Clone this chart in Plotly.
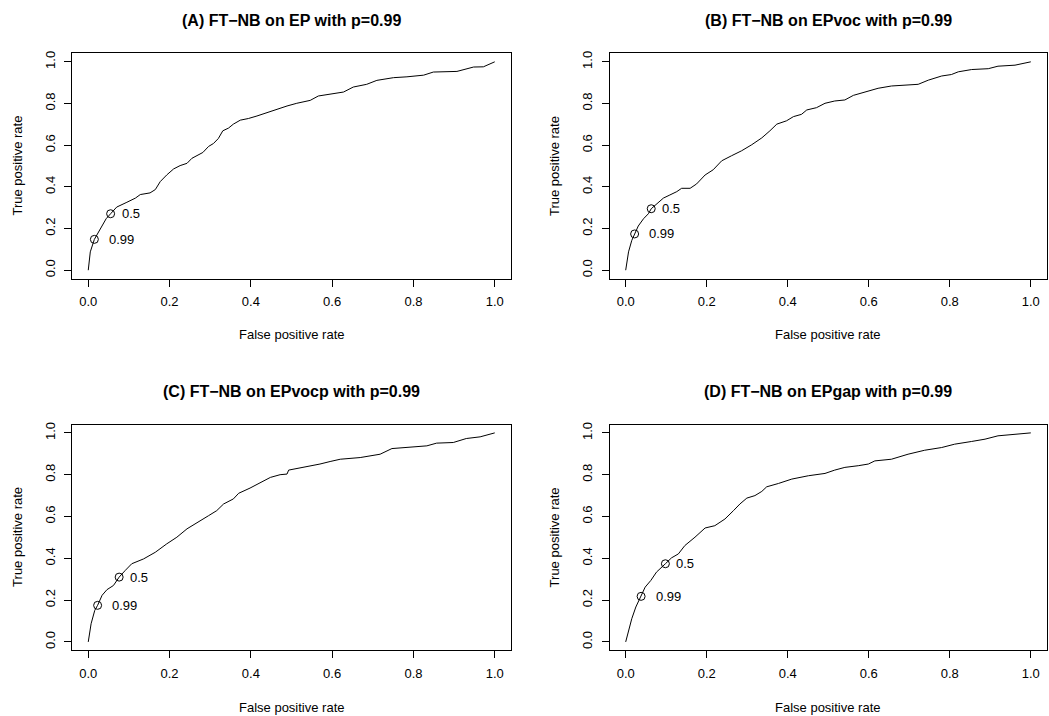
import plotly.graph_objects as go

# ---------------- data ----------------
titles = ["(A) FT\u2212NB on EP with p=0.99",
          "(B) FT\u2212NB on EPvoc with p=0.99",
          "(C) FT\u2212NB on EPvocp with p=0.99",
          "(D) FT\u2212NB on EPgap with p=0.99"]

fpr_A = [0, 0.005, 0.015, 0.03, 0.044, 0.055, 0.07, 0.095, 0.116, 0.128, 0.152, 0.165, 0.177, 0.193,
         0.21, 0.226, 0.243, 0.255, 0.267, 0.282, 0.296, 0.308, 0.32, 0.331, 0.345, 0.357, 0.374,
         0.394, 0.415, 0.439, 0.464, 0.489, 0.513, 0.546, 0.566, 0.591, 0.628, 0.652, 0.685, 0.71,
         0.751, 0.784, 0.825, 0.849, 0.907, 0.948, 0.972, 1.0]
tpr_A = [0, 0.088, 0.148, 0.2, 0.247, 0.271, 0.303, 0.326, 0.346, 0.363, 0.371, 0.387, 0.425, 0.457,
         0.486, 0.502, 0.513, 0.537, 0.549, 0.565, 0.594, 0.608, 0.632, 0.669, 0.682, 0.701, 0.72,
         0.728, 0.74, 0.756, 0.772, 0.788, 0.801, 0.815, 0.836, 0.844, 0.855, 0.879, 0.892, 0.911,
         0.924, 0.928, 0.936, 0.951, 0.954, 0.975, 0.976, 1.0]

fpr_B = [0, 0.007, 0.015, 0.022, 0.031, 0.044, 0.056, 0.063, 0.076, 0.093, 0.109, 0.126, 0.138, 0.159,
         0.175, 0.196, 0.216, 0.237, 0.261, 0.286, 0.311, 0.336, 0.356, 0.373, 0.397, 0.414, 0.434,
         0.447, 0.471, 0.492, 0.516, 0.541, 0.562, 0.599, 0.623, 0.656, 0.697, 0.722, 0.747, 0.78,
         0.804, 0.821, 0.854, 0.895, 0.919, 0.961, 1.0]
tpr_B = [0, 0.088, 0.143, 0.174, 0.212, 0.247, 0.271, 0.295, 0.318, 0.346, 0.361, 0.377, 0.393, 0.393,
         0.414, 0.457, 0.482, 0.525, 0.549, 0.573, 0.602, 0.635, 0.669, 0.701, 0.717, 0.737, 0.748,
         0.769, 0.78, 0.801, 0.812, 0.817, 0.839, 0.86, 0.873, 0.884, 0.889, 0.892, 0.912, 0.932,
         0.939, 0.952, 0.963, 0.967, 0.979, 0.984, 1.0]

fpr_C = [0, 0.007, 0.016, 0.023, 0.034, 0.046, 0.062, 0.076, 0.091, 0.107, 0.136, 0.165, 0.193, 0.218,
         0.243, 0.267, 0.296, 0.316, 0.333, 0.357, 0.37, 0.398, 0.423, 0.448, 0.472, 0.489, 0.493,
         0.53, 0.57, 0.595, 0.62, 0.669, 0.718, 0.747, 0.8, 0.833, 0.857, 0.898, 0.93, 0.964, 1.0]
tpr_C = [0, 0.087, 0.151, 0.175, 0.223, 0.25, 0.27, 0.31, 0.342, 0.374, 0.397, 0.429, 0.469, 0.501,
         0.541, 0.568, 0.604, 0.628, 0.66, 0.684, 0.711, 0.736, 0.763, 0.787, 0.8, 0.803, 0.822,
         0.835, 0.851, 0.863, 0.874, 0.882, 0.898, 0.925, 0.933, 0.938, 0.951, 0.954, 0.973, 0.981, 1.0]

fpr_D = [0, 0.007, 0.015, 0.025, 0.038, 0.048, 0.062, 0.076, 0.098, 0.113, 0.13, 0.146, 0.171, 0.196,
         0.22, 0.245, 0.266, 0.282, 0.299, 0.319, 0.336, 0.348, 0.377, 0.41, 0.451, 0.492, 0.516,
         0.541, 0.574, 0.599, 0.615, 0.656, 0.697, 0.738, 0.78, 0.812, 0.854, 0.887, 0.919, 0.961, 1.0]
tpr_D = [0, 0.056, 0.111, 0.167, 0.218, 0.262, 0.294, 0.334, 0.374, 0.402, 0.421, 0.461, 0.501, 0.545,
         0.556, 0.588, 0.628, 0.66, 0.688, 0.7, 0.72, 0.742, 0.758, 0.779, 0.795, 0.806, 0.822,
         0.835, 0.843, 0.851, 0.866, 0.874, 0.898, 0.917, 0.93, 0.946, 0.959, 0.97, 0.986, 0.994, 1.0]

cutoff_labels = ["0.99", "0.5"]
cut_fpr_A = [0.015, 0.055]; cut_tpr_A = [0.148, 0.271]
cut_fpr_B = [0.022, 0.063]; cut_tpr_B = [0.174, 0.295]
cut_fpr_C = [0.023, 0.076]; cut_tpr_C = [0.175, 0.310]
cut_fpr_D = [0.038, 0.098]; cut_tpr_D = [0.218, 0.374]

tick_vals = [0.0, 0.2, 0.4, 0.6, 0.8, 1.0]
tick_text = ["0.0", "0.2", "0.4", "0.6", "0.8", "1.0"]

# ---------------- layout ----------------
W, H = 1049, 716
FONT = "Liberation Sans, Arial, Helvetica, sans-serif"

# pixel geometry of the plot boxes (left, right, top, bottom)
boxes = [(72, 511, 50.7, 276.7), (609.5, 1047, 50.7, 276.7),
         (72, 511, 423.3, 650), (609.5, 1047, 423.3, 650)]
ylabel_x = [17.5, 554, 17.5, 554]
title_y = [18, 18, 390.5, 390.5]
xlabel_y = [333, 333, 707, 707]

series = [(fpr_A, tpr_A, cut_fpr_A, cut_tpr_A), (fpr_B, tpr_B, cut_fpr_B, cut_tpr_B),
          (fpr_C, tpr_C, cut_fpr_C, cut_tpr_C), (fpr_D, tpr_D, cut_fpr_D, cut_tpr_D)]

fig = go.Figure()
annotations = []
label_shift = {"0.99": 12.6, "0.5": 9}

for i, ((fx, ty, cx, cy), (l, r, t, b)) in enumerate(zip(series, boxes)):
    n = "" if i == 0 else str(i + 1)
    xa, ya = "x" + n, "y" + n
    fig.add_trace(go.Scatter(x=fx, y=ty, mode="lines", line=dict(color="black", width=1),
                             xaxis=xa, yaxis=ya, showlegend=False, hoverinfo="skip"))
    fig.add_trace(go.Scatter(x=cx, y=cy, mode="markers",
                             marker=dict(symbol="circle-open", size=8, color="black",
                                         line=dict(width=1, color="black")),
                             xaxis=xa, yaxis=ya, showlegend=False, hoverinfo="skip"))
    for lab, px, py in zip(cutoff_labels, cx, cy):
        annotations.append(dict(x=px, y=py, xref=xa, yref=ya, text=lab, showarrow=False,
                                xanchor="left", yanchor="middle", xshift=label_shift[lab],
                                font=dict(family=FONT, size=13, color="black")))
    axis_common = dict(range=[-0.04, 1.04], tickmode="array", tickvals=tick_vals, ticktext=tick_text,
                       ticks="outside", ticklen=7, tickwidth=1, tickcolor="black",
                       showline=True, linecolor="black", linewidth=1, mirror=True,
                       showgrid=False, zeroline=False, fixedrange=True,
                       tickfont=dict(family=FONT, size=13, color="black"))
    fig.update_layout(**{
        ("xaxis" + n): dict(domain=[l / W, r / W], anchor=ya, ticklabelstandoff=4, **axis_common),
        ("yaxis" + n): dict(domain=[1 - b / H, 1 - t / H], anchor=xa, tickangle=-90,
                            ticklabelstandoff=4, **axis_common),
    })
    cx_mid = (l + r) / 2 / W
    annotations.append(dict(x=cx_mid, y=1 - title_y[i] / H, xref="paper", yref="paper",
                            text="<b>" + titles[i] + "</b>", showarrow=False,
                            xanchor="center", yanchor="middle",
                            font=dict(family=FONT, size=16, color="black")))
    annotations.append(dict(x=cx_mid, y=1 - xlabel_y[i] / H, xref="paper", yref="paper",
                            text="False positive rate", showarrow=False,
                            xanchor="center", yanchor="middle",
                            font=dict(family=FONT, size=13, color="black")))
    annotations.append(dict(x=ylabel_x[i] / W, y=1 - (t + b) / 2 / H, xref="paper", yref="paper",
                            text="True positive rate", showarrow=False, textangle=-90,
                            xanchor="center", yanchor="middle",
                            font=dict(family=FONT, size=13, color="black")))

fig.update_layout(width=W, height=H, margin=dict(l=0, r=0, t=0, b=0),
                  paper_bgcolor="white", plot_bgcolor="white",
                  annotations=annotations, showlegend=False)

fig.write_html("out.html")
